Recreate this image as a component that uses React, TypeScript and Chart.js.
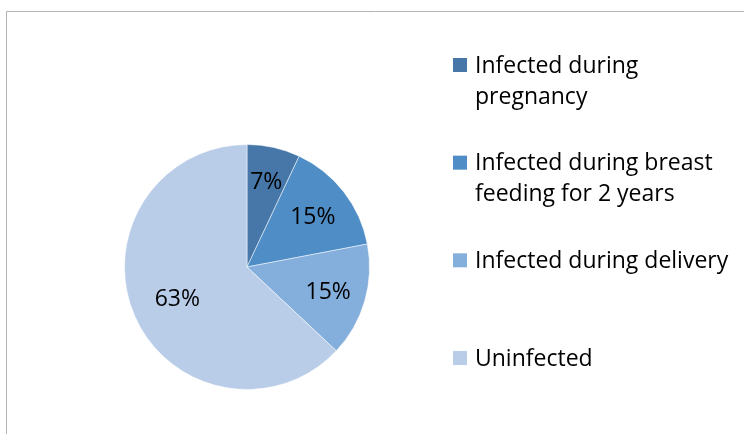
import React, { useEffect, useRef } from "react";
import { Chart, registerables } from "chart.js";

Chart.register(...registerables);

const categories: string[][] = [
  ["Infected during", "pregnancy"],
  ["Infected during breast", "feeding for 2 years"],
  ["Infected during delivery"],
  ["Uninfected"],
];
const values: number[] = [7, 15, 15, 63];
const valueLabels: string[] = ["7%", "15%", "15%", "63%"];
const colors: string[] = ["#4677A8", "#4F8DC6", "#84AEDC", "#B9CDE8"];

const FONT = "23px 'Open Sans', sans-serif";

const decorPlugin = {
  id: "decor",
  afterDraw(chart: any) {
    const ctx = chart.ctx as CanvasRenderingContext2D;
    ctx.save();
    // frame
    ctx.strokeStyle = "#b3b3b3";
    ctx.lineWidth = 1;
    ctx.beginPath();
    ctx.moveTo(6.5, 440);
    ctx.lineTo(6.5, 11.5);
    ctx.lineTo(750, 11.5);
    ctx.stroke();

    // data labels
    const meta = chart.getDatasetMeta(0);
    const factors = [0.72, 0.68, 0.69, 0.62];
    ctx.font = FONT;
    ctx.fillStyle = "#000";
    ctx.textAlign = "center";
    ctx.textBaseline = "middle";
    meta.data.forEach((arc: any, i: number) => {
      const p = arc.getProps(["x", "y", "startAngle", "endAngle", "outerRadius"], true);
      const mid = (p.startAngle + p.endAngle) / 2;
      const r = p.outerRadius * factors[i];
      ctx.fillText(valueLabels[i], p.x + Math.cos(mid) * r, p.y + Math.sin(mid) * r + 2);
    });

    // legend
    const y0 = 66;
    const y1 = 359;
    const step = (y1 - y0) / (categories.length - 1);
    ctx.textAlign = "left";
    categories.forEach((lines, i) => {
      const yc = y0 + step * i;
      ctx.fillStyle = colors[i];
      ctx.fillRect(453, yc - 8, 14, 14);
      ctx.fillStyle = "#000";
      lines.forEach((ln, j) => {
        ctx.fillText(ln, 475, yc + j * 31);
      });
    });
    ctx.restore();
  },
};

export default function App() {
  const ref = useRef<HTMLCanvasElement | null>(null);
  useEffect(() => {
    if (!ref.current) return;
    const chart = new Chart(ref.current, {
      type: "pie",
      data: {
        labels: categories.map((c) => c.join(" ")),
        datasets: [
          {
            data: values,
            backgroundColor: colors,
            borderColor: "rgba(255,255,255,0.5)",
            borderWidth: 1,
          },
        ],
      },
      options: {
        responsive: false,
        animation: false,
        layout: { padding: { left: 124, right: 374, top: 144, bottom: 44 } },
        plugins: {
          legend: { display: false },
          tooltip: { enabled: false },
        },
      },
      plugins: [decorPlugin],
    });
    return () => chart.destroy();
  }, []);
  return (
    <div style={{ position: "absolute", left: 0, top: 0, width: 744, height: 434, background: "#fff" }}>
      <canvas ref={ref} width={744} height={434} style={{ display: "block", width: 744, height: 434 }} />
    </div>
  );
}
